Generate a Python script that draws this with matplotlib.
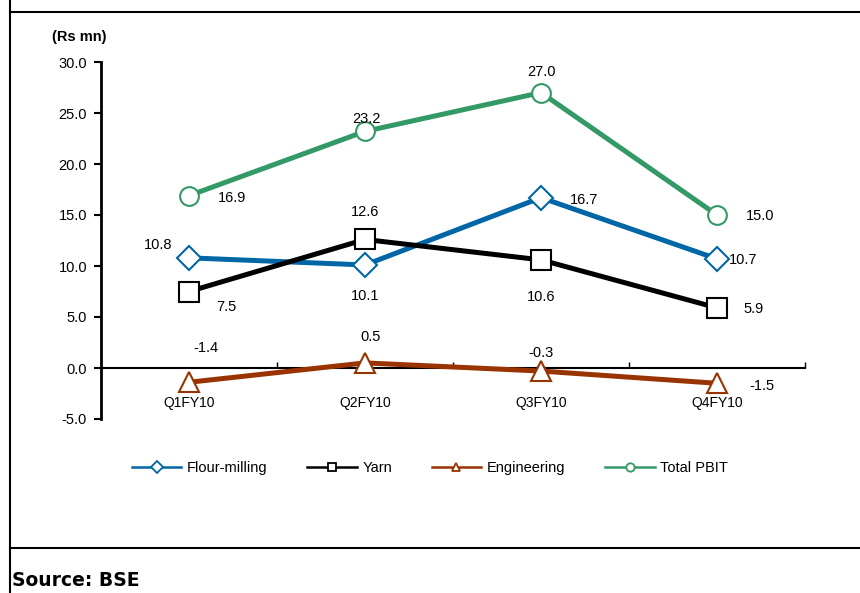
import matplotlib
matplotlib.use('Agg')
import matplotlib.pyplot as plt
from matplotlib.lines import Line2D

plt.rcParams['font.family'] = ['Liberation Sans', 'DejaVu Sans']

quarters = ['Q1FY10', 'Q2FY10', 'Q3FY10', 'Q4FY10']
flour_milling = [10.8, 10.1, 16.7, 10.7]
yarn = [7.5, 12.6, 10.6, 5.9]
engineering = [-1.4, 0.5, -0.3, -1.5]
total_pbit = [16.9, 23.2, 27.0, 15.0]

# label offsets in points (dx, dy), per series
off_flour = [(-22, 9), (0, -22), (31, -2), (19, -1)]
off_yarn = [(27, -11), (0, 20), (0, -27), (26, -1)]
off_eng = [(12, 25), (4, 19), (0, 13), (32, -2)]
off_total = [(31, -2), (1, 9), (0, 15), (31, -1)]

fig = plt.figure(figsize=(8.6, 5.93), dpi=100)
ax = fig.add_axes([101/860, 1-419/593, 704/860, 357/593])

x = list(range(len(quarters)))
series = [
    ('Flour-milling', flour_milling, '#0066A6', 'D', 12.5, off_flour),
    ('Yarn', yarn, '#000000', 's', 14, off_yarn),
    ('Engineering', engineering, '#993300', '^', 14, off_eng),
    ('Total PBIT', total_pbit, '#339966', 'o', 13.5, off_total),
]

handles = []
for name, vals, col, mk, ms, offs in series:
    ax.plot(x, vals, color=col, lw=3.6, marker=mk, ms=ms, mfc='white',
            mec=col, mew=1.5, zorder=3, clip_on=False)
    for xi, v, (dx, dy) in zip(x, vals, offs):
        ax.annotate('%.1f' % v, (xi, v), xytext=(dx, dy), textcoords='offset points',
                    ha='center', va='center', fontsize=10.5)
    handles.append(Line2D([], [], color=col, lw=1.8, marker=mk, ms=6,
                          mfc='white', mec=col, mew=1.3))

ax.set_xlim(-0.5, 3.5)
ax.set_ylim(-5, 30)
ax.set_yticks([-5, 0, 5, 10, 15, 20, 25, 30])
ax.set_yticklabels(['%.1f' % t for t in ax.get_yticks()], fontsize=10.5)
ax.set_xticks([0.5, 1.5, 2.5, 3.5])
ax.set_xticklabels([])
ax.set_xticks(x, minor=True)
ax.set_xticklabels(quarters, minor=True, fontsize=10.5)
ax.tick_params(axis='x', which='minor', length=0, pad=20)
ax.tick_params(axis='x', which='major', direction='in', length=4, width=1)
ax.tick_params(axis='y', direction='out', length=5, width=1.5, pad=5)

for s in ['top', 'right']:
    ax.spines[s].set_visible(False)
ax.spines['bottom'].set_position(('data', 0))
ax.spines['bottom'].set_linewidth(1.5)
ax.spines['left'].set_linewidth(2)
ax.patch.set_alpha(0)

fig.text(52/860, 1-37/593, '(Rs mn)', fontsize=10.5, fontweight='bold',
         ha='left', va='center')

fig.legend(handles, [s[0] for s in series], loc='center', ncol=4, frameon=False,
           bbox_to_anchor=(430/860, 1-468/593), fontsize=10.5, handlelength=3.4,
           columnspacing=2.7, handletextpad=0.4)

# frame lines
fig.add_artist(Line2D([10/860, 10/860], [0, 1], color='black', lw=1.5))
fig.add_artist(Line2D([10/860, 1], [1-12/593, 1-12/593], color='black', lw=1.5))
fig.add_artist(Line2D([10/860, 1], [1-548/593, 1-548/593], color='black', lw=1.5))

fig.text(12/860, 1-580/593, 'Source: BSE', fontsize=13.5, fontweight='bold',
         family=['DejaVu Sans'], ha='left', va='center')

fig.savefig('out.png', dpi=100)
